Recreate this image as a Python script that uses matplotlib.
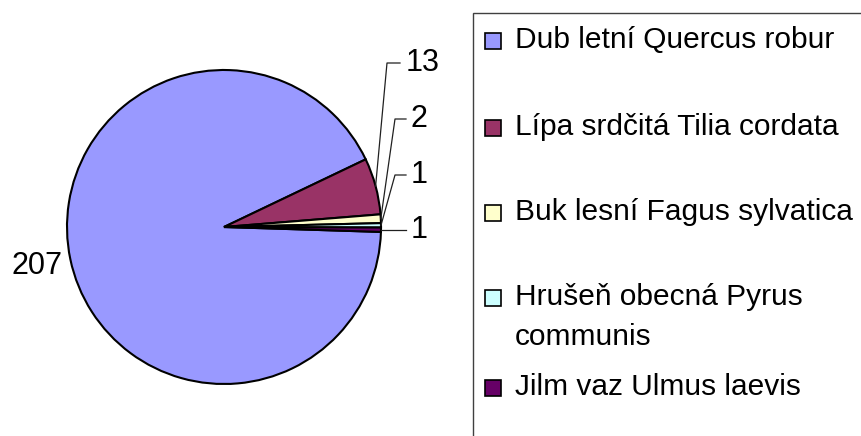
import matplotlib
matplotlib.use('Agg')
import matplotlib.pyplot as plt
from matplotlib.patches import Rectangle
import numpy as np

plt.rcParams['font.family'] = ['Liberation Sans', 'DejaVu Sans']

# data
species = ['Dub letní Quercus robur', 'Lípa srdčitá Tilia cordata',
           'Buk lesní Fagus sylvatica', 'Hrušeň obecná Pyrus\ncommunis',
           'Jilm vaz Ulmus laevis']
counts = [207, 13, 2, 1, 1]
colors = ['#9999FF', '#993366', '#FFFFCC', '#CCFFFF', '#660066']

W, H = 862, 436
fig = plt.figure(figsize=(W / 100, H / 100), dpi=100)

# pie axes: centre (224, 227) px, radius 157 px
cx, cy, r = 224, 227, 157
ax = fig.add_axes([(cx - r) / W, (H - cy - r) / H, 2 * r / W, 2 * r / H])
wedges, _ = ax.pie(counts, colors=colors, startangle=-1.8, counterclock=False,
                   radius=1, wedgeprops=dict(edgecolor='black', linewidth=1.5))
ax.set_xlim(-1, 1)
ax.set_ylim(-1, 1)
ax.set_aspect('equal')
ax.axis('off')


def px(x, y):
    # figure pixels (top-left origin) -> pie data coords
    return (x - cx) / r, (cy - y) / r


# label layout (pixels): leader elbow x, label y, leader end x, text x
lab_pos = [None, (387, 63, 400, 406), (395, 119, 406, 411),
           (395, 175, 406, 411), (None, 230, 406, 411)]

for w, n, pos in zip(wedges, counts, lab_pos):
    mid = np.deg2rad((w.theta1 + w.theta2) / 2)
    ex, ey = np.cos(mid), np.sin(mid)
    if pos is None:
        ax.text(1.22 * ex, 1.22 * ey, str(n), fontsize=22, ha='center', va='center')
        continue
    elx, ly, lend, tx = pos
    _, y1 = px(0, ly)
    x_end, _ = px(lend, 0)
    if elx is None:
        ax.plot([ex, x_end], [ey, ey], color='#202020', lw=0.9, clip_on=False)
        ty = ey
    else:
        x1, _ = px(elx, 0)
        ax.plot([ex, x1, x_end], [ey, y1, y1], color='#202020', lw=0.9, clip_on=False)
        ty = y1
    tx_d, _ = px(tx, 0)
    ax.text(tx_d, ty, str(n), fontsize=22, ha='left', va='center')

# legend frame (runs off the figure on right and bottom)
fig.add_artist(Rectangle((473 / W, -0.05), 0.6, 1.05 - 13 / H,
                         transform=fig.transFigure, facecolor='none',
                         edgecolor='#404040', linewidth=1))

baselines = [48, 135, 220, 305, 395]
for lab, col, base in zip(species, colors, baselines):
    sq = 16
    fig.add_artist(Rectangle((485 / W, (H - base - 1) / H), sq / W, sq / H,
                             transform=fig.transFigure, facecolor=col,
                             edgecolor='black', linewidth=1.2))
    for k, line in enumerate(lab.split('\n')):
        fig.text(515 / W, (H - base - 40 * k) / H, line, fontsize=21.5,
                 ha='left', va='baseline')

fig.savefig('out.png', dpi=100)
